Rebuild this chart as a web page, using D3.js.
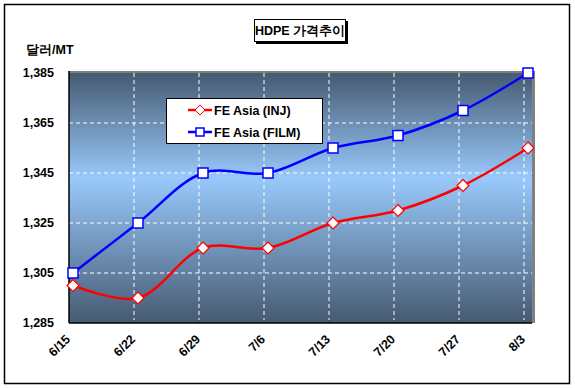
<!DOCTYPE html>
<html><head><meta charset="utf-8">
<script src="https://cdn.jsdelivr.net/npm/d3@7"></script>
<style>body{margin:0;background:#fff}text{font-family:"Liberation Sans",Arial,sans-serif;font-weight:bold}</style>
</head><body>
<svg id="c" width="575" height="388"></svg>
<script>
const categories = ["6/15","6/22","6/29","7/6","7/13","7/20","7/27","8/3"];
const injValues = [1300,1295,1315,1315,1325,1330,1340,1355];
const filmValues = [1305,1325,1345,1345,1355,1360,1370,1385];
const yTicks = [1285,1305,1325,1345,1365,1385];
const seriesNames = ["FE Asia (INJ)","FE Asia (FILM)"];
const title = "HDPE 가격추이";
const unitLabel = "달러/MT";

const svg = d3.select("#c");
const L=69,R=532,T=73,B=323;
const x = d3.scalePoint().domain(categories).range([73,528]);
const y = d3.scaleLinear().domain([1285,1385]).range([B,T]);

// outer border
svg.append("rect").attr("x",4.5).attr("y",4.5).attr("width",565).attr("height",379).attr("fill","#fff").attr("stroke","#000").attr("stroke-width",1.5);

const defs = svg.append("defs");
const g = defs.append("linearGradient").attr("id","bg").attr("gradientUnits","userSpaceOnUse")
  .attr("x1",0).attr("y1",T).attr("x2",0).attr("y2",B);
g.append("stop").attr("offset","0%").attr("stop-color","#465a72");
g.append("stop").attr("offset","42%").attr("stop-color","#98c9fb");
g.append("stop").attr("offset","100%").attr("stop-color","#465a72");

// plot shadow/border
svg.append("rect").attr("x",L).attr("y",T-2).attr("width",R-L+3).attr("height",B-T+2).attr("fill","#808080");
svg.append("rect").attr("x",L).attr("y",T).attr("width",R-L).attr("height",B-T).attr("fill","url(#bg)");

// grid
const gridX = categories.slice(1).map(c=>x(c)-4);
svg.append("g").selectAll("line").data(gridX).join("line")
  .attr("x1",d=>d).attr("x2",d=>d).attr("y1",T).attr("y2",B)
  .attr("stroke","#fff").attr("stroke-dasharray","4,3").attr("stroke-width",1);
svg.append("g").selectAll("line").data(yTicks.slice(1,-1)).join("line")
  .attr("x1",L).attr("x2",R).attr("y1",d=>y(d)).attr("y2",d=>y(d))
  .attr("stroke","#fff").attr("stroke-dasharray","4,3").attr("stroke-width",1);

// axes lines
svg.append("line").attr("x1",L).attr("x2",L).attr("y1",T-2).attr("y2",B).attr("stroke","#000").attr("stroke-width",1.5);
svg.append("line").attr("x1",L).attr("x2",R).attr("y1",B).attr("y2",B).attr("stroke","#000").attr("stroke-width",1.5);
svg.append("g").selectAll("line").data(gridX).join("line")
  .attr("x1",d=>d).attr("x2",d=>d).attr("y1",B-3).attr("y2",B).attr("stroke","#000");

// y labels
svg.append("g").selectAll("text").data(yTicks).join("text")
  .attr("x",54).attr("y",d=>y(d)+4).attr("text-anchor","end").attr("font-size",12.5)
  .text(d=>d3.format(",")(d));
svg.append("text").attr("x",26).attr("y",54).attr("font-size",12.5).text(unitLabel);

// x labels
svg.append("g").selectAll("text").data(categories).join("text")
  .attr("transform",c=>`translate(${x(c)-2},${B+17}) rotate(-45)`)
  .attr("text-anchor","end").attr("font-size",12.5).text(c=>c);

// lines
const line = d3.line().x((d,i)=>x(categories[i])).y(d=>y(d)).curve(d3.curveCatmullRom.alpha(0.5));
svg.append("path").attr("d",line(injValues)).attr("fill","none").attr("stroke","#ff0000").attr("stroke-width",2.5);
svg.append("path").attr("d",line(filmValues)).attr("fill","none").attr("stroke","#0000ff").attr("stroke-width",2.5);

const sq = 10, dm = 6;
svg.append("g").selectAll("rect").data(filmValues).join("rect")
  .attr("x",(d,i)=>x(categories[i])-sq/2).attr("y",d=>y(d)-sq/2).attr("width",sq).attr("height",sq)
  .attr("fill","#fff").attr("stroke","#0000ff").attr("stroke-width",1.5);
svg.append("g").selectAll("path").data(injValues).join("path")
  .attr("d",(d,i)=>{const cx=x(categories[i]),cy=y(d);return `M${cx},${cy-dm}L${cx+dm},${cy}L${cx},${cy+dm}L${cx-dm},${cy}Z`;})
  .attr("fill","#fff").attr("stroke","#ff0000").attr("stroke-width",1.2);

// legend
svg.append("rect").attr("x",166.5).attr("y",98.5).attr("width",156).attr("height",45).attr("fill","#fff").attr("stroke","#000");
const colors=["#ff0000","#0000ff"];
seriesNames.forEach((n,i)=>{
  const ly = 110 + i*22;
  svg.append("line").attr("x1",188).attr("x2",212).attr("y1",ly).attr("y2",ly).attr("stroke",colors[i]).attr("stroke-width",2.5);
  if(i===0){
    svg.append("path").attr("d",`M200,${ly-5}L205,${ly}L200,${ly+5}L195,${ly}Z`).attr("fill","#fff").attr("stroke",colors[i]);
  } else {
    svg.append("rect").attr("x",196).attr("y",ly-4).attr("width",8).attr("height",8).attr("fill","#fff").attr("stroke",colors[i]).attr("stroke-width",1.5);
  }
  svg.append("text").attr("x",214).attr("y",ly+4.5).attr("font-size",12.5).text(n);
});

// title
svg.append("rect").attr("x",256).attr("y",21).attr("width",92).attr("height",23).attr("fill","#000");
svg.append("rect").attr("x",254.5).attr("y",19.5).attr("width",91).attr("height",22).attr("fill","#fff").attr("stroke","#000");
svg.append("text").attr("x",300).attr("y",35).attr("text-anchor","middle").attr("font-size",12.5).text(title);
</script>
</body></html>
